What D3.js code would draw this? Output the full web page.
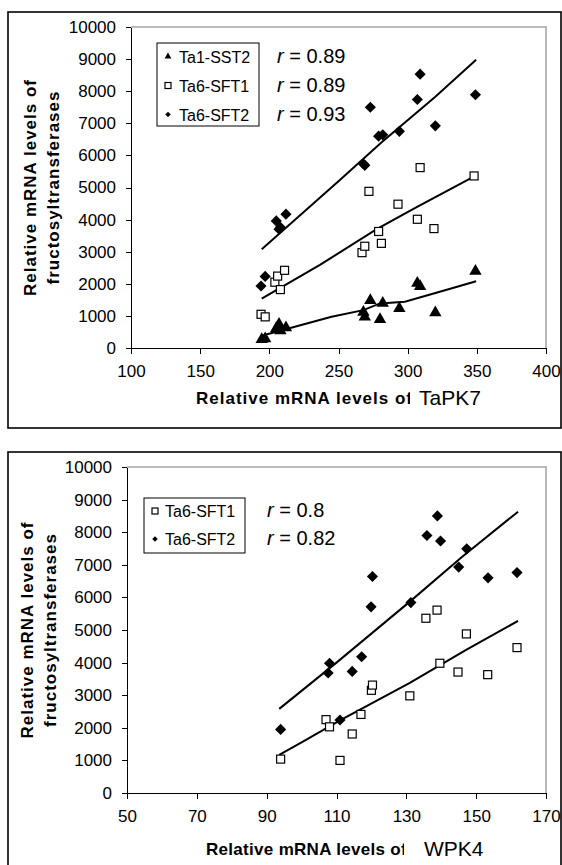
<!DOCTYPE html>
<html lang="en">
<head>
  <meta charset="utf-8">
  <script src="https://d3js.org/d3.v7.min.js"></script>
  <style>
    body { margin: 0; background: #fff; }
    svg { display: block; font-family: Arial, "Liberation Sans", sans-serif; }
    .axis path, .axis line { stroke: #000; stroke-width: 1; shape-rendering: crispEdges; }
    .axis text { font-size: 17px; fill: #000; font-family: Arial, "Liberation Sans", sans-serif; }
  </style>
</head>
<body>
<svg id="chart" width="562" height="865"></svg>
<script>
  // ---- data ----
  // panel A: x = TaPK7
  const pk7SST2 = [[194.5,270],[197,290],[205,610],[207,740],[208,540],[212,630],
    [268,1120],[269,970],[273,1480],[280,890],[282,1400],[294,1230],[307,2020],[309,1920],[320,1100],[349,2390]];
  const pk7SFT1 = [[194,1050],[197,970],[204,2050],[206,2240],[208,1820],[211,2420],
    [267,2970],[269,3170],[272,4880],[279,3630],[281,3260],[293,4480],[307,4010],[309,5620],[319,3720],[348,5360]];
  const pk7SFT2 = [[194,1930],[197,2230],[205,3960],[207,3700],[208,3760],[212,4170],
    [268,5740],[269,5690],[273,7500],[279,6600],[282,6640],[294,6750],[307,7740],[309,8530],[320,6920],[349,7890]];
  // trend lines (as drawn)
  const pk7SST2Line = [[194.5,380],[245,975],[268,1180],[280,1390],[298,1440],[327,1800],[349.5,2080]];
  const pk7SFT1Line = [[194.5,1540],[236.6,2590],[277.6,3700],[306.5,4390],[349.5,5380]];
  const pk7SFT2Line = [[194.5,3080],[251,5230],[281,6400],[320,7830],[349.5,8980]];
  const pk7Labels = ["Ta1-SST2", "Ta6-SFT1", "Ta6-SFT2"];
  const pk7R = ["0.89", "0.89", "0.93"];
  const pk7XTicks = [100, 150, 200, 250, 300, 350, 400];

  // panel B: x = WPK4
  const wpk4SFT1 = [[94,1040],[107,2250],[108,2030],[111,1000],[114.5,1810],[117,2410],[120,3150],[120.3,3310],
    [131,2980],[135.6,5360],[138.8,5610],[139.6,3980],[144.8,3710],[147.2,4880],[153.3,3630],[161.7,4460]];
  const wpk4SFT2 = [[94,1950],[107.6,3680],[108,3980],[111,2240],[114.5,3730],[117.2,4180],[119.9,5710],[120.3,6640],
    [131.3,5840],[135.9,7900],[138.9,8500],[139.8,7730],[145,6930],[147.3,7490],[153.4,6600],[161.7,6760]];
  const wpk4SFT1Line = [[93.6,1170],[100,1550],[111,2230],[131,3380],[147,4380],[162,5280]];
  const wpk4SFT2Line = [[93.6,2580],[110,4000],[131,5870],[146,7250],[162,8630]];
  const wpk4Labels = ["Ta6-SFT1", "Ta6-SFT2"];
  const wpk4R = ["0.8", "0.82"];
  const wpk4XTicks = [50, 70, 90, 110, 130, 150, 170];

  const yTicks = d3.range(0, 10001, 1000);

  const svg = d3.select("#chart");

  // marker shapes
  function drawMarker(g, kind, size) {
    if (kind === "tri") {
      g.append("path").attr("d", d3.symbol(d3.symbolTriangle, size * size * 0.55)()).attr("fill", "#000");
    } else if (kind === "sq") {
      g.append("rect").attr("x", -size / 2).attr("y", -size / 2).attr("width", size).attr("height", size)
        .attr("fill", "#fff").attr("stroke", "#000").attr("stroke-width", 1.2);
    } else {
      g.append("path").attr("d", d3.symbol(d3.symbolDiamond2, size * size * 0.55)()).attr("fill", "#000");
    }
  }

  function drawPanel(p) {
    // outer frame
    svg.append("rect").attr("x", p.frame[0]).attr("y", p.frame[1])
      .attr("width", p.frame[2] - p.frame[0]).attr("height", p.frame[3] - p.frame[1])
      .attr("fill", "none").attr("stroke", "#000").attr("stroke-width", 1.6);

    const x = d3.scaleLinear().domain(p.xDomain).range([p.left, p.right]);
    const y = d3.scaleLinear().domain([0, 10000]).range([p.bottom, p.top]);

    // grey plot-area border (top + right)
    svg.append("path")
      .attr("d", `M${p.left},${p.top}H${p.right}V${p.bottom}`)
      .attr("fill", "none").attr("stroke", "#a6a6a6").attr("stroke-width", 1.6);

    svg.append("g").attr("class", "axis")
      .attr("transform", `translate(0,${p.bottom})`)
      .call(d3.axisBottom(x).tickValues(p.xTicks).tickSize(6).tickSizeOuter(0).tickPadding(11).tickFormat(d3.format("d")));
    svg.append("g").attr("class", "axis")
      .attr("transform", `translate(${p.left},0)`)
      .call(d3.axisLeft(y).tickValues(yTicks).tickSize(5).tickSizeOuter(0).tickPadding(10).tickFormat(d3.format("d")));

    // trend lines
    const line = d3.line().x(d => x(d[0])).y(d => y(d[1]));
    p.lines.forEach(l => {
      svg.append("path").datum(l).attr("d", line)
        .attr("fill", "none").attr("stroke", "#000").attr("stroke-width", 2);
    });

    // points
    p.series.forEach(s => {
      svg.append("g").selectAll("g").data(s.data).join("g")
        .attr("transform", d => `translate(${x(d[0])},${y(d[1])})`)
        .each(function () { drawMarker(d3.select(this), s.kind, s.size); });
    });

    // legend
    const lg = p.legend;
    svg.append("rect").attr("x", lg.box[0]).attr("y", lg.box[1])
      .attr("width", lg.box[2] - lg.box[0]).attr("height", lg.box[3] - lg.box[1])
      .attr("fill", "#fff").attr("stroke", "#000").attr("stroke-width", 1);
    p.labels.forEach((lab, i) => {
      const by = lg.y0 + i * lg.dy;
      const m = svg.append("g").attr("transform", `translate(${lg.mx},${by - 6})`);
      drawMarker(m, p.series[i].kind, 6);
      svg.append("text").attr("x", lg.tx).attr("y", by)
        .attr("font-size", 16).text(lab);
      const t = svg.append("text").attr("x", lg.rx).attr("y", by).attr("font-size", 20);
      t.append("tspan").attr("font-style", "italic").text("r");
      t.append("tspan").text(" = " + p.r[i]);
    });

    // y title (two lines)
    const yc = (p.top + p.bottom) / 2;
    [p.yLabel1X, p.yLabel2X].forEach((bx, i) => {
      svg.append("text")
        .attr("transform", `translate(${bx},${yc}) rotate(-90)`)
        .attr("text-anchor", "middle").attr("font-weight", "bold")
        .attr("font-size", 17).attr("letter-spacing", 1)
        .text(i === 0 ? "Relative mRNA levels of" : "fructosyltransferases");
    });

    // x title; the gene name sits on a white box that clips the "f"
    svg.append("text").attr("x", p.xTitleX).attr("y", p.xTitleY)
      .attr("font-weight", "bold").attr("font-size", 17).attr("letter-spacing", p.xTitleLs)
      .text("Relative mRNA levels of");
    svg.append("rect").attr("x", p.boxX).attr("y", p.xTitleY - 18)
      .attr("width", 80).attr("height", 22).attr("fill", "#fff");
    svg.append("text").attr("x", p.geneX).attr("y", p.xTitleY + 1)
      .attr("font-size", 21).text(p.gene);
  }

  drawPanel({
    frame: [8, 12, 561, 428],
    left: 131, right: 546, top: 27, bottom: 348,
    xDomain: [100, 400], xTicks: pk7XTicks,
    lines: [pk7SST2Line, pk7SFT1Line, pk7SFT2Line],
    series: [
      { data: pk7SST2, kind: "tri", size: 11 },
      { data: pk7SFT1, kind: "sq", size: 8 },
      { data: pk7SFT2, kind: "dia", size: 12 }
    ],
    labels: pk7Labels, r: pk7R,
    legend: { box: [157, 43, 259, 126], y0: 62.5, dy: 29, mx: 168, tx: 179, rx: 277 },
    yLabel1X: 35.5, yLabel2X: 59,
    xTitleX: 196, xTitleY: 404, xTitleLs: 1, gene: "TaPK7", geneX: 419, boxX: 410
  });

  drawPanel({
    frame: [8, 452, 561, 880],
    left: 127, right: 546, top: 467, bottom: 793,
    xDomain: [50, 170], xTicks: wpk4XTicks,
    lines: [wpk4SFT1Line, wpk4SFT2Line],
    series: [
      { data: wpk4SFT1, kind: "sq", size: 8 },
      { data: wpk4SFT2, kind: "dia", size: 12 }
    ],
    labels: wpk4Labels, r: wpk4R,
    legend: { box: [144, 498, 245, 553], y0: 517, dy: 28, mx: 155, tx: 165, rx: 267 },
    yLabel1X: 33, yLabel2X: 56,
    xTitleX: 206, xTitleY: 855, xTitleLs: 0.3, gene: "WPK4", geneX: 424, boxX: 404
  });
</script>
</body>
</html>
